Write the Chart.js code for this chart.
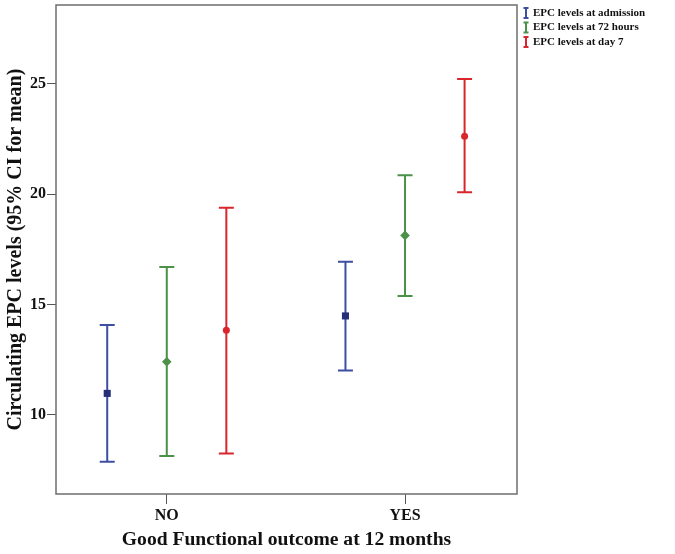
<!DOCTYPE html>
<html>
<head>
<meta charset="utf-8">
<script src="https://cdn.jsdelivr.net/npm/chart.js@4/dist/chart.umd.min.js"></script>
<style>
  html, body { margin: 0; padding: 0; background: #fff; }
  #wrap { width: 675px; height: 554px; }
</style>
</head>
<body>
<div id="wrap"><canvas id="chart"></canvas></div>
<script>
// groups on the x axis
const groups = ['NO', 'YES'];
const yTicks = [10, 15, 20, 25];

// series: mean and 95% CI bounds, one value per group
const seriesNames = ['EPC levels at admission', 'EPC levels at 72 hours', 'EPC levels at day 7'];
const admissionMean = [10.97, 14.48];
const admissionLow = [7.87, 12.01];
const admissionHigh = [14.07, 16.94];
const hours72Mean = [12.40, 18.13];
const hours72Low = [8.13, 15.38];
const hours72High = [16.70, 20.86];
const day7Mean = [13.83, 22.62];
const day7Low = [8.25, 20.09];
const day7High = [19.38, 25.22];

const serif = "'Liberation Serif', 'Times New Roman', serif";
const barColors = ['#3d4fa3', '#4b9148', '#d9262c'];
const markColors = ['#262e78', '#4b9148', '#d9262c'];
const markStyles = ['rect', 'rectRot', 'circle'];
const markSizes = [5, 4.8, 3.5];
const shift = [-0.25, 0, 0.25];

const means = [admissionMean, hours72Mean, day7Mean];
const lows = [admissionLow, hours72Low, day7Low];
const highs = [admissionHigh, hours72High, day7High];

const datasets = seriesNames.map((name, s) => ({
    label: name,
    data: groups.map((g, i) => ({ x: i + 1 + shift[s], y: means[s][i], lo: lows[s][i], hi: highs[s][i] })),
    pointStyle: markStyles[s],
    pointRadius: markSizes[s],
    pointBackgroundColor: markColors[s],
    pointBorderColor: markColors[s],
    pointBorderWidth: 0,
    showLine: false
}));

// draws the CI whiskers with caps, through the scales
const errorBars = {
    id: 'errorBars',
    beforeDatasetsDraw(chart) {
        const { ctx, scales } = chart;
        ctx.save();
        ctx.lineWidth = 2;
        chart.data.datasets.forEach((ds, s) => {
            ctx.strokeStyle = barColors[s];
            ds.data.forEach(p => {
                const x = scales.x.getPixelForValue(p.x);
                const yl = scales.y.getPixelForValue(p.lo);
                const yh = scales.y.getPixelForValue(p.hi);
                ctx.beginPath();
                ctx.moveTo(x, yl); ctx.lineTo(x, yh);
                ctx.moveTo(x - 7.5, yl); ctx.lineTo(x + 7.5, yl);
                ctx.moveTo(x - 7.5, yh); ctx.lineTo(x + 7.5, yh);
                ctx.stroke();
            });
        });
        ctx.restore();
    }
};

// plot frame and the legend at the top right
const frameAndLegend = {
    id: 'frameAndLegend',
    afterDraw(chart) {
        const { ctx, chartArea: a } = chart;
        ctx.save();
        ctx.strokeStyle = '#6e6e6e';
        ctx.lineWidth = 1.5;
        ctx.strokeRect(a.left, a.top, a.right - a.left, a.bottom - a.top);

        ctx.font = 'bold 11px ' + serif;
        ctx.textBaseline = 'middle';
        seriesNames.forEach((name, s) => {
            const y = 13 + s * 14.5;
            const x = 526;
            ctx.strokeStyle = barColors[s];
            ctx.lineWidth = 2;
            ctx.beginPath();
            ctx.moveTo(x, y - 5); ctx.lineTo(x, y + 5);
            ctx.moveTo(x - 2.5, y - 5); ctx.lineTo(x + 2.5, y - 5);
            ctx.moveTo(x - 2.5, y + 5); ctx.lineTo(x + 2.5, y + 5);
            ctx.stroke();
            ctx.fillStyle = '#111';
            ctx.fillText(name, 533, y);
        });
        ctx.restore();
    }
};

new Chart(document.getElementById('chart'), {
    type: 'scatter',
    data: { datasets },
    plugins: [errorBars, frameAndLegend],
    options: {
        responsive: true,
        maintainAspectRatio: false,
        animation: false,
        layout: { padding: { left: 0, top: 4.5, right: 158, bottom: 0 } },
        plugins: {
            legend: { display: false },
            tooltip: { enabled: false }
        },
        scales: {
            x: {
                type: 'linear',
                min: 0.535,
                max: 2.47,
                afterBuildTicks: scale => { scale.ticks = groups.map((g, i) => ({ value: i + 1 })); },
                afterFit: scale => { scale.height = 60; scale.paddingLeft = 0; scale.paddingRight = 0; },
                ticks: {
                    callback: v => groups[Math.round(v) - 1],
                    color: '#111',
                    font: { family: serif, size: 16, weight: 'bold' },
                    padding: 2,
                    maxRotation: 0
                },
                grid: { drawOnChartArea: false, drawTicks: true, tickLength: 10, color: '#555', lineWidth: 1 },
                border: { display: false },
                title: {
                    display: true,
                    text: 'Good Functional outcome at 12 months',
                    color: '#111',
                    font: { family: serif, size: 19.6, weight: 'bold' },
                    padding: { top: 0, bottom: 2 }
                }
            },
            y: {
                type: 'linear',
                min: 6.41,
                max: 28.57,
                afterBuildTicks: scale => { scale.ticks = yTicks.map(v => ({ value: v })); },
                afterFit: scale => { scale.width = 56; scale.paddingTop = 0; scale.paddingBottom = 0; },
                ticks: {
                    color: '#111',
                    font: { family: serif, size: 16, weight: 'bold' },
                    padding: 1
                },
                grid: { drawOnChartArea: false, drawTicks: true, tickLength: 9, color: '#555', lineWidth: 1 },
                border: { display: false },
                title: {
                    display: true,
                    text: 'Circulating EPC levels (95% CI for mean)',
                    color: '#111',
                    font: { family: serif, size: 20, weight: 'bold' },
                    padding: { top: 4, bottom: 0 }
                }
            }
        }
    }
});
</script>
</body>
</html>
